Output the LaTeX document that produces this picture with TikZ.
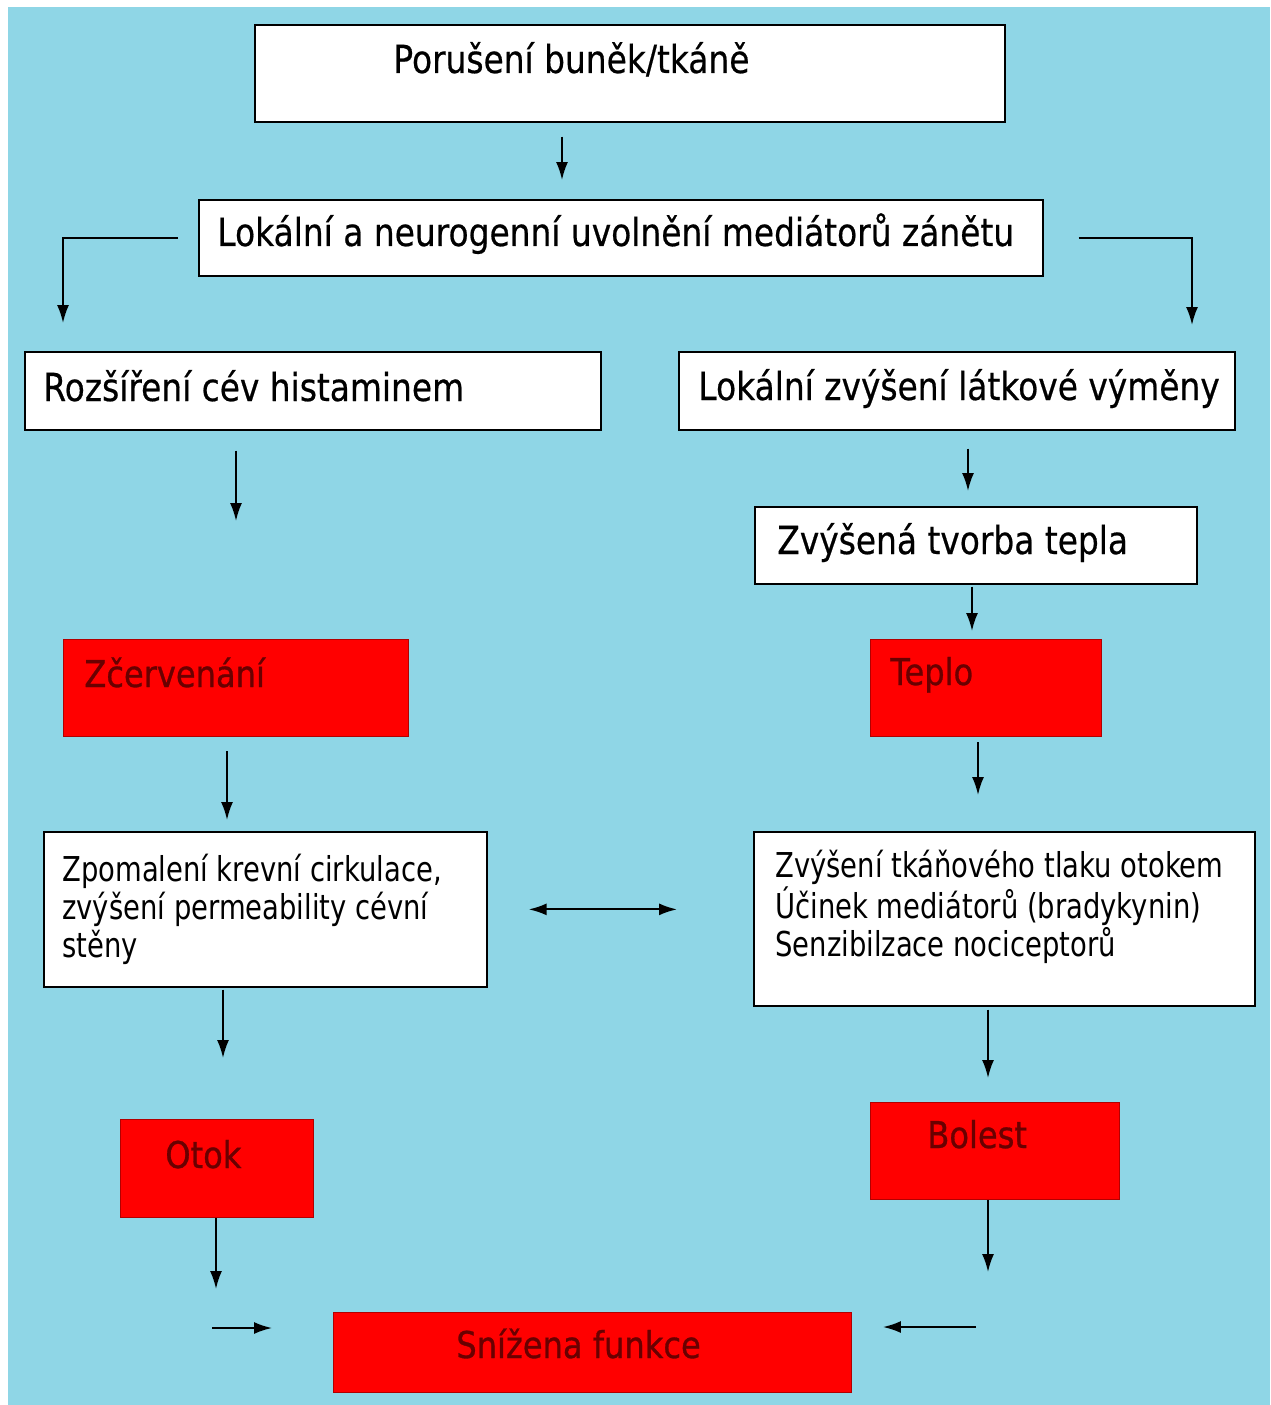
\documentclass[tikz,border=0pt]{standalone}
\usepackage{fontspec}
\setmainfont{DejaVu Sans}
\newfontfamily\headfont[FakeStretch=0.85,FakeBold=0.5]{DejaVu Sans}
\newfontfamily\bodyfont[FakeStretch=0.8]{DejaVu Sans}
\newfontfamily\redfont[FakeStretch=0.87,FakeBold=0.8]{DejaVu Sans}
\usetikzlibrary{arrows.meta}

\definecolor{skyback}{RGB}{143,214,230}
\definecolor{boxred}{RGB}{255,0,0}
\definecolor{textred}{RGB}{105,0,0}

\begin{document}
\begin{tikzpicture}[x=0.02cm,y=-0.02cm,
    whitebox/.style={draw=black,line width=1pt,fill=white,anchor=north west,inner sep=0pt},
    redbox/.style={draw=red!70!black,line width=0.6pt,fill=boxred,anchor=north west,inner sep=0pt},
    headtext/.style={anchor=base west,inner sep=0pt,font=\headfont\fontsize{22}{26}\selectfont},
    bodytext/.style={anchor=north west,inner sep=0pt,align=left,font=\bodyfont\fontsize{19.5}{21.5}\selectfont},
    redtext/.style={anchor=base west,inner sep=0pt,text=textred,font=\redfont\fontsize{21}{25}\selectfont},
    arr/.style={line width=1.1pt,-{Latex[length=3.6mm,width=2.4mm]}},
    twoarr/.style={line width=1.1pt,{Latex[length=3.6mm,width=2.4mm]}-{Latex[length=3.6mm,width=2.4mm]}}]

    % background
    \fill[white] (0,0) rectangle (1270,1405);
    \fill[skyback] (8,7) rectangle (1270,1405);

    % boxes
    \node[whitebox,minimum width=15cm,minimum height=1.94cm] (porus) at (254,24) {};
    \node[whitebox,minimum width=16.88cm,minimum height=1.52cm] (lokal) at (198,199) {};
    \node[whitebox,minimum width=11.52cm,minimum height=1.56cm] (rozsir) at (24,351) {};
    \node[whitebox,minimum width=11.12cm,minimum height=1.56cm] (vymena) at (678,351) {};
    \node[whitebox,minimum width=8.84cm,minimum height=1.54cm] (tvorba) at (754,506) {};
    \node[redbox,minimum width=6.9cm,minimum height=1.94cm] (zcerv) at (63,639) {};
    \node[redbox,minimum width=4.62cm,minimum height=1.94cm] (teplo) at (870,639) {};
    \node[whitebox,minimum width=8.86cm,minimum height=3.1cm] (zpomal) at (43,831) {};
    \node[whitebox,minimum width=10.02cm,minimum height=3.48cm] (tlak) at (753,831) {};
    \node[redbox,minimum width=3.86cm,minimum height=1.96cm] (otok) at (120,1119) {};
    \node[redbox,minimum width=4.98cm,minimum height=1.94cm] (bolest) at (870,1102) {};
    \node[redbox,minimum width=10.36cm,minimum height=1.6cm] (funkce) at (333,1312) {};

    % texts
    \node[headtext] (porusT) at (393,73) {Porušení buněk/tkáně};
    \node[headtext] (lokalT) at (217,246) {Lokální a neurogenní uvolnění mediátorů zánětu};
    \node[headtext] (rozsirT) at (43,401) {Rozšíření cév histaminem};
    \node[headtext] (vymenaT) at (698,400) {Lokální zvýšení látkové výměny};
    \node[headtext] (tvorbaT) at (777,554) {Zvýšená tvorba tepla};
    \node[redtext] (zcervT) at (84,687) {Zčervenání};
    \node[redtext] (teploT) at (890,685) {Teplo};
    \node[bodytext] (zpomalT) at (62,854) {Zpomalení krevní cirkulace,\\zvýšení permeability cévní\\stěny};
    \node[bodytext] (tlakT) at (775,850) {Zvýšení tkáňového tlaku otokem\\Účinek mediátorů (bradykynin)\\Senzibilzace nociceptorů};
    \node[redtext] (otokT) at (165,1168) {Otok};
    \node[redtext] (bolestT) at (927,1148) {Bolest};
    \node[redtext] (funkceT) at (456,1358) {Snížena funkce};

    \coordinate (otokin) at (212,1328);
    \coordinate (bolestin) at (976,1327);

    % arrows
    \draw[arr,shorten <=0.28cm,shorten >=0.38cm] (porus.south -| 562,0) -- (lokal.north -| 562,0);
    \draw[arr,shorten <=0.4cm,shorten >=0.56cm] (lokal.west) -| (rozsir.north -| 63,0);
    \draw[arr,shorten <=0.7cm,shorten >=0.52cm] (lokal.east) -| (vymena.north -| 1192,0);
    \draw[arr,shorten <=0.4cm,shorten >=2.36cm] (rozsir.south -| 236,0) -- (zcerv.north -| 236,0);
    \draw[arr,shorten <=0.36cm,shorten >=0.3cm] (vymena.south -| 968,0) -- (tvorba.north -| 968,0);
    \draw[arr,shorten <=0.04cm,shorten >=0.16cm] (tvorba.south -| 972,0) -- (teplo.north -| 972,0);
    \draw[arr,shorten <=0.28cm,shorten >=0.22cm] (zcerv.south -| 227,0) -- (zpomal.north -| 227,0);
    \draw[arr,shorten <=0.1cm,shorten >=0.72cm] (teplo.south -| 978,0) -- (tlak.north -| 978,0);
    \draw[twoarr,shorten <=0.82cm,shorten >=1.52cm] (zpomal.east) -- (zpomal.east -| tlak.west);
    \draw[arr,shorten <=0.04cm,shorten >=1.22cm] (zpomal.south -| 223,0) -- (otok.north -| 223,0);
    \draw[arr,shorten <=0.06cm,shorten >=0.48cm] (tlak.south -| 988,0) -- (bolest.north -| 988,0);
    \draw[arr,shorten >=0.46cm] (otok.south -| 216,0) -- (funkce.north -| 216,0);
    \draw[arr,shorten >=0.8cm] (bolest.south -| 988,0) -- (funkce.north -| 988,0);
    \draw[arr,shorten >=1.22cm] (otokin) -- (funkce.west |- otokin);
    \draw[arr,shorten >=0.62cm] (bolestin) -- (funkce.east |- bolestin);
\end{tikzpicture}
\end{document}
